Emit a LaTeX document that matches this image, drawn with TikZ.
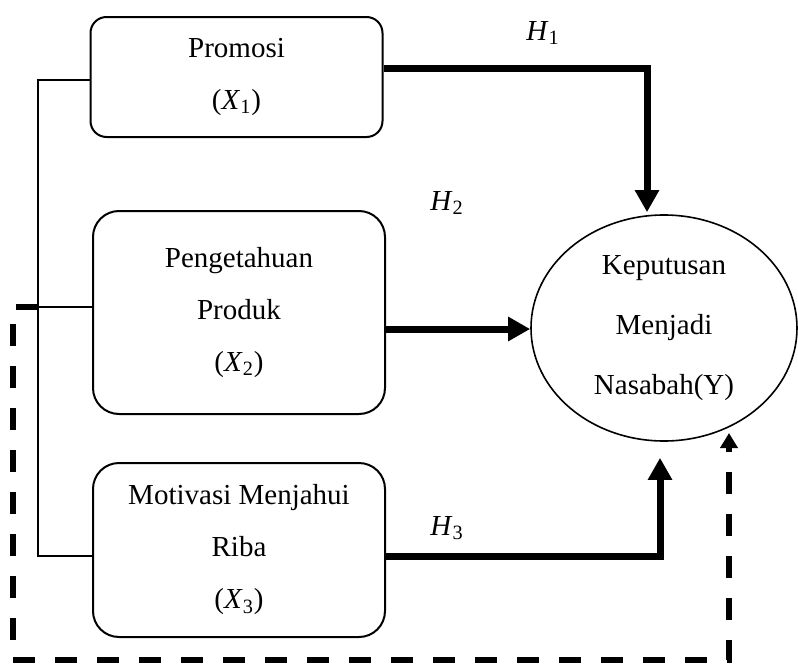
\documentclass[tikz,border=0pt]{standalone}
\usepackage{fontspec}
\setmainfont{Liberation Serif}
\usetikzlibrary{arrows.meta,shapes.geometric,calc}

\begin{document}
\begin{tikzpicture}[x=0.5pt,y=-0.5pt,
 font=\fontsize{14.5}{26}\selectfont,
 varbox/.style={draw,line width=1pt,align=center,inner sep=0pt,minimum width=146pt},
 link/.style={line width=0.8pt},
 hyp/.style={line width=3.5pt,-{Triangle[width=11.5pt,length=11pt]}},
 feedback/.style={line width=3pt,dash pattern=on 11pt off 10pt,-{Triangle[width=8.5pt,length=7.5pt]}}]
\useasboundingbox (0,0) rectangle (798,664);
% variables
\node[varbox,rounded corners=8pt,minimum height=60pt] (p1) at (236.5,77) {Promosi\\(\textit{X}\textsubscript{1})};
\node[varbox,rounded corners=13pt,minimum height=101.5pt] (p2) at (239,312.5) {Pengetahuan\\Produk\\(\textit{X}\textsubscript{2})};
\node[varbox,rounded corners=13pt,minimum height=87pt] (p3) at (239,550) {Motivasi Menjahui\\Riba\\(\textit{X}\textsubscript{3})};
\node[ellipse,draw,line width=0.8pt,align=center,inner sep=0pt,minimum width=133pt,minimum height=113pt,
 font=\fontsize{14.5}{30}\selectfont] (y) at (664,328) {Keputusan\\Menjadi\\Nasabah(Y)};
% hypotheses
\node (h1) at (543,33) {\textit{H}\textsubscript{1}};
\node (h2) at (447,203) {\textit{H}\textsubscript{2}};
\node (h3) at (447,528) {\textit{H}\textsubscript{3}};
\coordinate (bm) at (38,307);
\coordinate (fbend) at ($(y.center)+(65,105)$);
\draw[hyp] ($(p1.east)+(0,-9)$) -| ($(y.north)+(-17,-2)$);
\draw[hyp] ($(p2.east)+(0,16.5)$) -- (y.west |- {$(p2.east)+(0,16.5)$});
\draw[hyp] ($(p3.east)+(0,6)$) -| ($(y.south)+(-4,16)$);
% joint effect
\draw[link] ($(p1.west)+(0,3)$) -| (bm) |- ($(p3.west)+(0,6)$);
\draw[link] (p2.west |- bm) -- (bm);
\draw[feedback] (bm) -- (13,307) -- (13,660) -| (fbend);
\end{tikzpicture}
\end{document}
